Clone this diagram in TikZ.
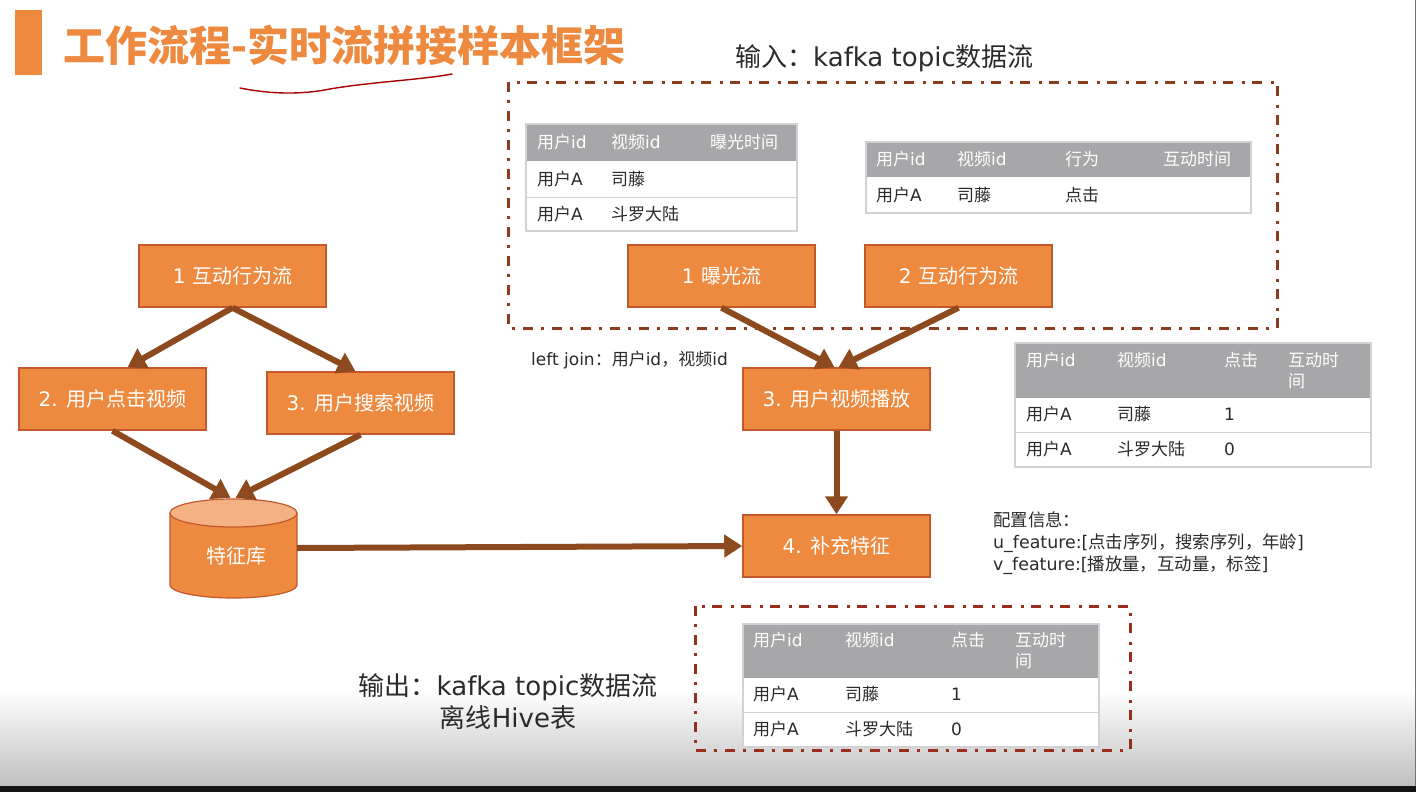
\documentclass[tikz,border=0pt]{standalone}
\usepackage{fontspec}
\setmainfont{Noto Sans CJK SC}
\newfontfamily\latfont{DejaVu Sans}
\newcommand\latn[1]{{\latfont #1}}
\IfFontExistsTF{Noto Sans CJK SC Black}
  {\newfontfamily\titlefont{Noto Sans CJK SC Black}}
  {\newfontfamily\titlefont{Noto Sans CJK SC}[FakeBold=3]}
\usetikzlibrary{arrows.meta}

\definecolor{boxfill}{HTML}{EE8A3F}
\definecolor{boxline}{HTML}{C4582A}
\definecolor{arrowc}{HTML}{8C4A1E}
\definecolor{framein}{HTML}{8A3C1C}
\definecolor{frameout}{HTML}{9A2E1C}
\definecolor{headgray}{HTML}{A7A6A9}
\definecolor{rulegray}{HTML}{D2D2D6}
\definecolor{ink}{HTML}{2B2B2B}
\definecolor{titleor}{HTML}{EE8A40}
\definecolor{dbtop}{HTML}{F4B183}

\tikzset{
  flowbox/.style={draw=boxline, fill=boxfill, line width=1.5pt,
    minimum width=187pt, minimum height=62pt, inner sep=0pt,
    text=white, font=\fontsize{20}{24}\selectfont},
  flow/.style={draw=arrowc, line width=6pt,
    -{Triangle[width=22pt,length=18pt]}},
  streamframe/.style={line width=3pt,
    dash pattern=on 10pt off 7.5pt on 3pt off 8.5pt},
  celltext/.style={anchor=west, inner sep=0pt,
    font=\fontsize{17}{21}\selectfont, text=ink, align=left},
  headtext/.style={celltext, text=white},
  plaintext/.style={inner sep=0pt, text=ink},
}

\begin{document}
\begin{tikzpicture}[x=1pt, y=-1pt]
\useasboundingbox (0,0) rectangle (1416,792);

% page background with the darkening lower edge
\fill[white] (0,0) rectangle (1416,792);
\shade[top color=white, bottom color=black!25] (0,690) rectangle (1416,786);
\fill[black!92] (0,786) rectangle (1416,792);
\fill[black!55] (1414.5,0) rectangle (1416,786);

% heading
\fill[titleor] (15,10) rectangle (42,75);
\node[anchor=west, inner sep=0pt, text=titleor,
  font=\titlefont\fontsize{42}{48}\selectfont] (title) at (63,45)
  {工作流程-实时流拼接样本框架};
\draw[red!65!black, line width=1.4pt, line cap=round]
  (240,88) .. controls (270,94) and (300,95) .. (330,89)
  .. controls (370,82) and (420,80) .. (452,74);

% input stream frame and its caption
\node[plaintext, anchor=west, font=\fontsize{26}{30}\selectfont] (inlabel)
  at (735,58) {输入：\latn{kafka topic}数据流};
\draw[streamframe, draw=framein] (508,82) rectangle (1277,328);

% exposure table
\fill[white] (526,124) rectangle (797,231);
\fill[headgray] (526,124) rectangle (797,161);
\draw[rulegray, line width=1pt] (526,197) -- (797,197);
\draw[rulegray, line width=1.2pt] (526,124) rectangle (797,231);
\node[headtext] (t1h1) at (537,142) {用户\latn{id}};
\node[headtext] (t1h2) at (611,142) {视频\latn{id}};
\node[headtext] (t1h3) at (710,142) {曝光时间};
\node[celltext] (t1a1) at (537,179) {用户\latn{A}};
\node[celltext] (t1a2) at (611,179) {司藤};
\node[celltext] (t1b1) at (537,214) {用户\latn{A}};
\node[celltext] (t1b2) at (611,214) {斗罗大陆};

% interaction table
\fill[white] (866,142) rectangle (1251,213);
\fill[headgray] (866,142) rectangle (1251,177);
\draw[rulegray, line width=1.2pt] (866,142) rectangle (1251,213);
\node[headtext] (t2h1) at (876,159) {用户\latn{id}};
\node[headtext] (t2h2) at (957,159) {视频\latn{id}};
\node[headtext] (t2h3) at (1065,159) {行为};
\node[headtext] (t2h4) at (1163,159) {互动时间};
\node[celltext] (t2a1) at (876,195) {用户\latn{A}};
\node[celltext] (t2a2) at (957,195) {司藤};
\node[celltext] (t2a3) at (1065,195) {点击};

% joined table
\fill[white] (1015,343) rectangle (1371,467);
\fill[headgray] (1015,343) rectangle (1371,398);
\draw[rulegray, line width=1pt] (1015,432) -- (1371,432);
\draw[rulegray, line width=1.2pt] (1015,343) rectangle (1371,467);
\node[headtext] (t3h1) at (1026,360) {用户\latn{id}};
\node[headtext] (t3h2) at (1117,360) {视频\latn{id}};
\node[headtext] (t3h3) at (1224,360) {点击};
\node[headtext] (t3h4) at (1288,370.5) {互动时\\间};
\node[celltext] (t3a1) at (1026,414) {用户\latn{A}};
\node[celltext] (t3a2) at (1117,414) {司藤};
\node[celltext] (t3a3) at (1224,414) {\latn{1}};
\node[celltext] (t3b1) at (1026,449) {用户\latn{A}};
\node[celltext] (t3b2) at (1117,449) {斗罗大陆};
\node[celltext] (t3b3) at (1224,449) {\latn{0}};

% configuration note
\node[plaintext, anchor=north west, align=left,
  font=\fontsize{17.4}{22}\selectfont] (config) at (993,512)
  {配置信息：\\\latn{u\_feature:[}点击序列，搜索序列，年龄\latn{]}\\
   \latn{v\_feature:[}播放量，互动量，标签\latn{]}};

\node[plaintext, anchor=west, font=\fontsize{17}{21}\selectfont] (joinlabel)
  at (531,360) {\latn{left join}：用户\latn{id}，视频\latn{id}};

% output frame, table and caption
\draw[streamframe, draw=frameout] (695,606) rectangle (1130,750);
\fill[white] (743,624) rectangle (1099,747);
\fill[headgray] (743,624) rectangle (1099,678);
\draw[rulegray, line width=1pt] (743,712) -- (1099,712);
\draw[rulegray, line width=1.2pt] (743,624) rectangle (1099,747);
\node[headtext] (t4h1) at (753,640) {用户\latn{id}};
\node[headtext] (t4h2) at (845,640) {视频\latn{id}};
\node[headtext] (t4h3) at (951,640) {点击};
\node[headtext] (t4h4) at (1015,650.5) {互动时\\间};
\node[celltext] (t4a1) at (753,694) {用户\latn{A}};
\node[celltext] (t4a2) at (845,694) {司藤};
\node[celltext] (t4a3) at (951,694) {\latn{1}};
\node[celltext] (t4b1) at (753,729) {用户\latn{A}};
\node[celltext] (t4b2) at (845,729) {斗罗大陆};
\node[celltext] (t4b3) at (951,729) {\latn{0}};

\node[plaintext, align=center, font=\fontsize{26}{32}\selectfont] (outlabel)
  at (508,702) {输出：\latn{kafka topic}数据流\\离线\latn{Hive}表};

% processing steps
\node[flowbox] (src1) at (232.5,276) {\latn{1 }互动行为流};
\node[flowbox] (clk)  at (112.5,399) {\latn{2. }用户点击视频};
\node[flowbox] (srch) at (360.5,403) {\latn{3. }用户搜索视频};
\node[flowbox] (expo) at (721.5,276) {\latn{1 }曝光流};
\node[flowbox] (inter) at (958.5,276) {\latn{2 }互动行为流};
\node[flowbox] (play) at (836.5,399) {\latn{3. }用户视频播放};
\node[flowbox] (feat) at (836.5,546) {\latn{4. }补充特征};

% feature store cylinder
\path[fill=boxfill, draw=boxline, line width=1.2pt]
  (170,513) -- (170,585)
  arc[start angle=180, end angle=360, x radius=63.5pt, y radius=13pt]
  -- (297,513);
\fill[dbtop, draw=boxline, line width=1.2pt] (233.5,513)
  ellipse[x radius=63.5pt, y radius=14pt];
\node[minimum width=127pt, minimum height=100pt, inner sep=0pt] (db)
  at (233.5,548) {};
\node[inner sep=0pt, text=white, font=\fontsize{20}{24}\selectfont]
  (dblabel) at (236,556) {特征库};

% flow connectors
\draw[flow] (src1.south) -- ([xshift=15pt]clk.north);
\draw[flow] (src1.south) -- ([xshift=-5pt]srch.north);
\draw[flow] (clk.south) -- ([xshift=-3pt]db.north);
\draw[flow] (srch.south) -- ([xshift=2pt]db.north);
\draw[flow] (db.east) -- (feat.west);
\draw[flow] (expo.south) -- ([xshift=-2pt]play.north);
\draw[flow] (inter.south) -- ([xshift=2pt]play.north);
\draw[flow] (play.south) -- (feat.north);
\end{tikzpicture}
\end{document}
